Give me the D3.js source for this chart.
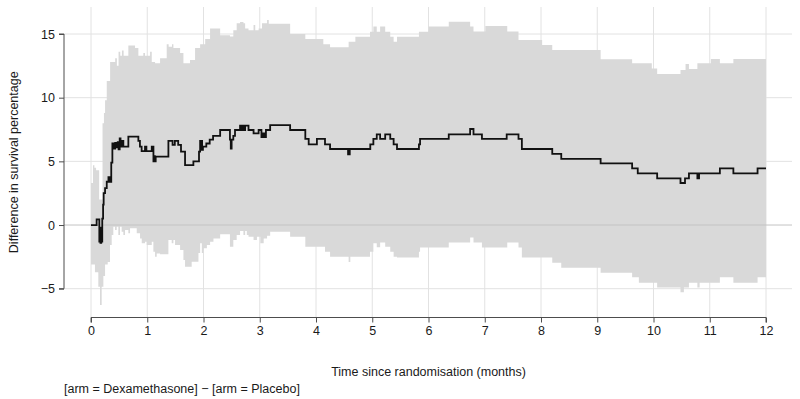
<!DOCTYPE html>
<html>
<head>
<meta charset="utf-8">
<script src="https://cdn.jsdelivr.net/npm/d3@7"></script>
<style>
  html, body { margin: 0; padding: 0; background: #fff; }
  svg { display: block; font-family: "Liberation Sans", Arial, Helvetica, sans-serif; }
</style>
</head>
<body>
<svg id="chart" width="800" height="399"></svg>
<script>
// ---- Data ----
const xTicks = [0,1,2,3,4,5,6,7,8,9,10,11,12];
const yTicks = [-5,0,5,10,15];
const xTitle = "Time since randomisation (months)";
const yTitle = "Difference in survival percentage";
const footnote = "[arm = Dexamethasone] \u2212 [arm = Placebo]";

// estimate (step function, value holds from time onward)
const estTime = [0,0.10,0.148,0.16,0.168,0.182,0.19,0.20,0.215,0.225,0.25,0.28,0.31,0.325,0.335,0.345,0.36,0.38,0.395,0.405,0.42,0.43,0.45,0.475,0.49,0.51,0.525,0.545,0.575,0.664,0.842,0.87,0.90,0.96,0.985,1.08,1.11,1.125,1.135,1.15,1.376,1.45,1.49,1.55,1.60,1.672,1.82,1.92,1.94,1.95,1.96,1.975,1.99,2.05,2.11,2.17,2.296,2.47,2.485,2.50,2.53,2.56,2.65,2.67,2.69,2.72,2.74,2.80,2.89,2.98,3.03,3.06,3.09,3.11,3.185,3.54,3.81,3.87,4.016,4.16,4.25,4.57,4.60,4.965,5.02,5.08,5.14,5.23,5.32,5.38,5.44,5.83,5.85,6.36,6.74,6.80,6.95,7.39,7.60,7.66,8.20,8.36,9.06,9.62,9.72,10.065,10.48,10.56,10.63,10.78,10.81,11.18,11.42,11.85];
const estValue = [0,0.45,-1.3,-0.2,-1.4,-0.4,-1.3,0.5,1.6,2.5,2.9,3.4,3.75,3.4,3.75,3.4,4.9,6.4,6.0,6.4,6.0,6.45,6.1,6.5,5.95,6.8,6.15,6.6,6.15,6.94,6.6,6.15,5.8,6.15,5.8,6.15,5.0,5.4,5.0,5.37,6.6,6.3,6.6,6.3,5.76,4.71,5.0,5.76,6.6,5.9,6.6,5.9,6.15,6.4,6.7,7.0,7.46,6.7,6.0,6.7,7.0,7.46,7.8,7.46,7.8,7.46,7.8,7.46,7.2,7.46,6.9,7.2,6.9,7.46,7.85,7.46,6.76,6.34,6.76,6.34,5.97,5.55,5.97,6.34,6.76,7.12,6.76,7.12,6.76,6.34,5.97,6.34,6.76,7.12,7.54,7.12,6.76,7.12,6.76,5.97,5.58,5.19,4.84,4.45,4.06,3.67,3.3,3.67,4.06,3.67,4.06,4.45,4.06,4.45];

// upper confidence limit (step function)
const upperTime = [0,0.035,0.06,0.09,0.145,0.205,0.23,0.25,0.28,0.34,0.43,0.46,0.49,0.52,0.55,0.58,0.664,0.783,0.842,0.93,0.96,1.05,1.08,1.139,1.228,1.346,1.38,1.44,1.465,1.584,1.643,1.76,1.85,1.94,2.03,2.117,2.296,2.47,2.53,2.59,2.65,2.71,2.74,2.80,2.89,2.92,2.98,3.04,3.13,3.16,3.54,3.81,4.13,4.25,4.58,4.70,4.96,5.02,5.08,5.14,5.23,5.32,5.38,5.44,5.83,6.0,6.36,6.74,6.80,7.01,7.40,7.60,8.02,8.20,9.06,9.62,9.97,10.065,10.48,10.57,10.63,10.78,11.02,11.18,11.42];
const upperValue = [3.3,4.7,4.5,4.3,2.0,8.0,8.8,9.8,11.3,12.8,13.1,12.5,13.6,13.3,13.7,13.3,14.1,13.9,13.3,13.5,13.3,13.6,12.8,12.7,13.1,14.2,14.0,14.2,13.9,13.5,12.7,12.95,13.9,14.2,14.6,15.44,14.9,14.8,15.3,15.84,15.95,15.84,15.44,15.3,15.7,15.3,15.44,15.84,16.1,15.8,15.0,14.6,14.2,13.95,14.4,14.79,15.18,15.58,15.18,15.58,15.18,14.79,14.4,14.79,15.18,15.58,15.97,15.58,15.2,15.63,15.2,14.53,14.14,13.75,13.02,12.7,12.3,11.86,12.17,12.65,12.26,12.7,13.03,12.7,13.03];

// lower confidence limit (step function)
const lowerTime = [0,0.07,0.13,0.16,0.19,0.22,0.25,0.297,0.338,0.368,0.397,0.427,0.457,0.486,0.516,0.545,0.575,0.605,0.664,0.694,0.813,0.872,0.902,0.961,0.99,1.08,1.109,1.139,1.168,1.228,1.376,1.435,1.465,1.494,1.584,1.643,1.672,1.79,1.91,1.94,1.97,2.0,2.06,2.117,2.177,2.296,2.47,2.53,2.59,2.65,2.71,2.74,2.77,2.80,2.89,2.95,3.01,3.07,3.13,3.185,3.54,3.81,4.16,4.25,4.58,4.61,4.96,5.02,5.08,5.14,5.23,5.32,5.38,5.44,5.83,5.85,6.36,6.74,6.80,6.95,7.40,7.60,7.66,8.20,8.36,9.06,9.62,9.74,10.065,10.48,10.54,10.63,10.78,10.82,11.18,11.42,11.85];
const lowerValue = [-3.1,-3.7,-4.84,-6.28,-4.84,-4.0,-3.1,-2.9,-1.57,-0.79,-0.13,-0.39,-0.13,-0.79,-0.13,-0.52,-0.79,-0.39,-0.65,-0.26,-0.65,-1.05,-1.44,-1.31,-1.57,-1.31,-2.1,-2.49,-2.23,-2.3,-1.18,-1.44,-1.18,-1.57,-1.96,-2.75,-3.27,-2.88,-2.2,-1.44,-2.2,-1.83,-1.57,-1.31,-1.05,-0.73,-1.7,-1.18,-0.79,-0.47,-0.79,-0.47,-0.79,-0.92,-1.18,-0.92,-1.44,-1.05,-0.84,-0.52,-0.92,-1.7,-2.1,-2.49,-2.9,-2.49,-2.1,-1.44,-1.75,-1.38,-1.7,-2.1,-2.49,-2.55,-2.1,-1.76,-1.38,-0.97,-1.38,-1.76,-1.38,-1.76,-2.55,-2.97,-3.36,-3.75,-4.11,-4.53,-4.9,-5.28,-4.9,-4.53,-4.9,-4.53,-4.11,-4.53,-4.11];

const tEnd = 12;

// ---- Layout ----
const svg = d3.select("#chart");
const x = d3.scaleLinear().domain([0, 12]).range([91, 766]);
const y = d3.scaleLinear().domain([-5, 15]).range([288.7, 34]);
const panelLeft = 64, panelRight = 792, panelTop = 7, panelBottom = 317.5;

const gridColor = "#e2e2e2";
const bandColor = "#d9d9d9";
const axisColor = "#4d4d4d";
const textColor = "#1a1a1a";

// gridlines (behind the band)
const grid = svg.append("g");
grid.selectAll("line.h").data(yTicks.filter(d => d !== 0)).join("line")
  .attr("x1", panelLeft).attr("x2", panelRight)
  .attr("y1", d => y(d)).attr("y2", d => y(d))
  .attr("stroke", gridColor).attr("stroke-width", 1);
grid.selectAll("line.v").data(xTicks).join("line")
  .attr("x1", d => x(d)).attr("x2", d => x(d))
  .attr("y1", panelTop).attr("y2", panelBottom)
  .attr("stroke", gridColor).attr("stroke-width", 1);

// band
function stepAt(times, values, t) {
  const i = d3.bisectRight(times, t) - 1;
  return values[Math.max(0, i)];
}
const bandTimes = Array.from(new Set([...upperTime, ...lowerTime])).sort((a, b) => a - b);
const bandData = bandTimes.map(t => ({ t, hi: stepAt(upperTime, upperValue, t), lo: stepAt(lowerTime, lowerValue, t) }));
bandData.push({ t: tEnd, hi: upperValue[upperValue.length - 1], lo: lowerValue[lowerValue.length - 1] });

const area = d3.area()
  .x(d => x(d.t)).y0(d => y(d.lo)).y1(d => y(d.hi))
  .curve(d3.curveStepAfter);
svg.append("path").datum(bandData)
  .attr("d", area).attr("fill", bandColor).attr("stroke", "none");

// zero reference line above the band
svg.append("line")
  .attr("x1", panelLeft).attr("x2", panelRight)
  .attr("y1", y(0)).attr("y2", y(0))
  .attr("stroke", "#c4c4c4").attr("stroke-width", 1);

// estimate line
const lineData = estTime.map((t, i) => ({ t, v: estValue[i] }));
lineData.push({ t: tEnd, v: estValue[estValue.length - 1] });
const line = d3.line().x(d => x(d.t)).y(d => y(d.v)).curve(d3.curveStepAfter);
svg.append("path").datum(lineData)
  .attr("d", line).attr("fill", "none")
  .attr("stroke", "#111").attr("stroke-width", 1.8)
  .attr("stroke-linejoin", "miter");

// axes
const xAxis = d3.axisBottom(x).tickValues(xTicks).tickSize(5).tickPadding(4).tickFormat(d3.format("d"));
const gx = svg.append("g").attr("transform", `translate(0,${panelBottom})`).call(xAxis);
const yAxis = d3.axisLeft(y).tickValues(yTicks).tickSize(5).tickPadding(4).tickFormat(d3.format("d"));
const gy = svg.append("g").attr("transform", `translate(${panelLeft},0)`).call(yAxis);
[gx, gy].forEach(g => {
  g.select(".domain").attr("stroke", axisColor);
  g.selectAll(".tick line").attr("stroke", axisColor);
  g.selectAll(".tick text").attr("fill", textColor)
    .style("font-size", "12.5px").style("font-family", "'Liberation Sans', Arial, sans-serif");
});
gx.select(".domain").attr("d", `M${x(0)},5V0H${x(12)}V5`);
gy.select(".domain").attr("d", `M-5,${y(15)}H0V${y(-5)}H-5`);

// titles
svg.append("text")
  .attr("x", (x(0) + x(12)) / 2).attr("y", 376)
  .attr("text-anchor", "middle").attr("fill", textColor)
  .style("font-size", "12.5px").text(xTitle);
svg.append("text")
  .attr("transform", `translate(18,${(panelTop + panelBottom) / 2}) rotate(-90)`)
  .attr("text-anchor", "middle").attr("fill", textColor)
  .style("font-size", "12.5px").text(yTitle);
svg.append("text")
  .attr("x", panelLeft).attr("y", 393)
  .attr("text-anchor", "start").attr("fill", textColor)
  .style("font-size", "12.5px").text(footnote);
</script>
</body>
</html>
